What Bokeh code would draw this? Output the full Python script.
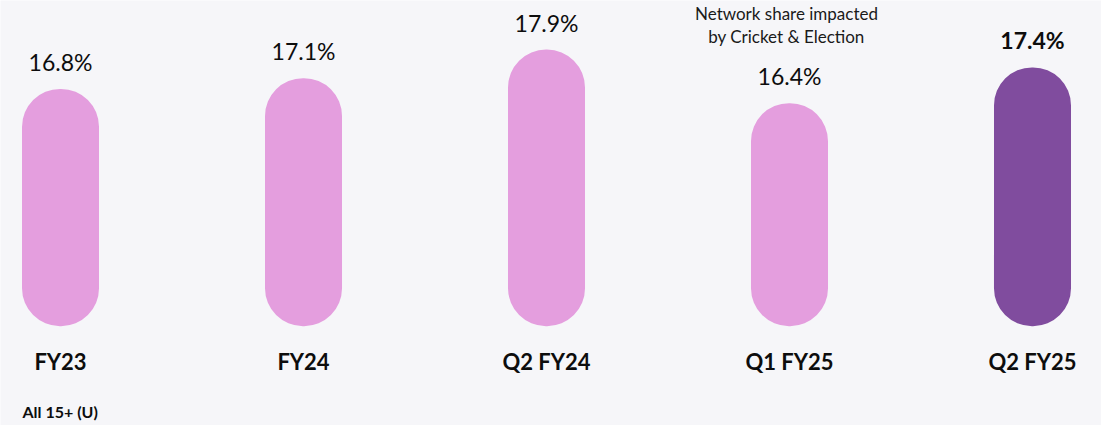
from bokeh.plotting import figure
from bokeh.models import Range1d, ColumnDataSource
from bokeh.core.properties import value
from bokeh.embed import file_html
from bokeh.resources import INLINE

# ---- data ----
categories = ["FY23", "FY24", "Q2 FY24", "Q1 FY25", "Q2 FY25"]
shares = [16.8, 17.1, 17.9, 16.4, 17.4]
share_labels = ["16.8%", "17.1%", "17.9%", "16.4%", "17.4%"]
highlight = [False, False, False, False, True]
note_lines = ["Network share impacted", "by Cricket & Election"]
note_index = 3
footnote = "All 15+ (U)"
baseline = 10.17

PINK = "#E49EDE"
PURPLE = "#804C9E"
BG = "#f6f6f9"
FONT = "Lato"

X0, X1 = -0.247, 4.284
Y0, Y1 = 7.397, 19.269

xs = list(range(len(categories)))
colors = [PURPLE if h else PINK for h in highlight]
weights = ["bold" if h else "normal" for h in highlight]

src = ColumnDataSource(dict(x=xs, top=shares, bottom=[baseline] * len(xs),
                            color=colors, label=share_labels, cat=categories,
                            weight=weights))

p = figure(width=1101, height=425, output_backend="svg", toolbar_location=None,
           x_range=Range1d(X0, X1), y_range=Range1d(Y0, Y1),
           min_border=0, background_fill_color=BG, border_fill_color=BG)
p.axis.visible = False
p.grid.visible = False
p.outline_line_color = None

p.vbar(x="x", top="top", bottom="bottom", width=0.317, source=src,
       fill_color="color", line_color=None, border_radius=38)

p.text(x="x", y="top", text="label", source=src, y_offset=-27,
       text_align="center", text_baseline="middle", text_font=value(FONT),
       text_font_size="23px", text_font_style="weight", text_color="#0d0d0d")

p.text(x="x", y="bottom", text="cat", source=src, y_offset=35,
       text_align="center", text_baseline="middle", text_font=value(FONT),
       text_font_size="22px", text_font_style="bold", text_color="#0d0d0d")

# annotation above Q1 FY25
p.text(x=[xs[note_index]] * 2, y=[Y1] * 2, text=note_lines,
       y_offset=[13, 36], x_offset=[-3, -3],
       text_align="center", text_baseline="middle", text_font=value(FONT),
       text_font_size="17px", text_color="#1a1a1a")

# footnote
p.text(x=[X0], y=[Y0], text=[footnote], x_offset=22, y_offset=-14,
       text_align="left", text_baseline="middle", text_font=value(FONT),
       text_font_size="16px", text_font_style="bold", text_color="#0d0d0d")

open("out.html", "w").write(file_html(p, INLINE))
